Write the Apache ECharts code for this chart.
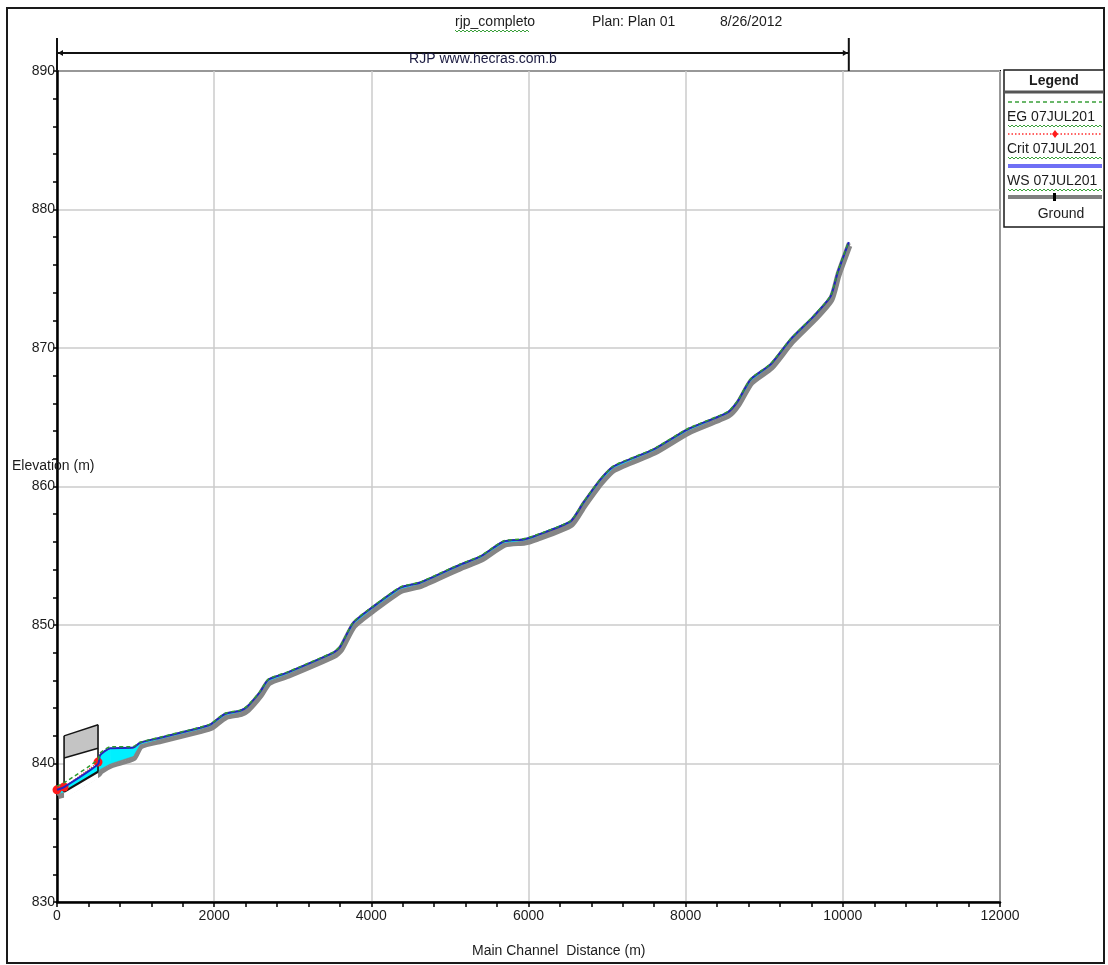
<!DOCTYPE html>
<html>
<head>
<meta charset="utf-8">
<title>rjp_completo profile</title>
<script src="https://cdn.jsdelivr.net/npm/echarts@6/dist/echarts.min.js"></script>
<style>
  html, body { margin: 0; padding: 0; background: #fff; }
  #main { width: 1108px; height: 965px; }
</style>
</head>
<body>
<div id="main"></div>
<script>
// Main channel stations (m) and profile elevations (m)
const distance = [0, 90, 522, 548, 675, 968, 1057, 1312, 1822, 1949, 2140, 2331, 2420, 2586, 2688, 2930, 3516, 3605, 3771, 4025, 4369, 4624, 5134, 5389, 5682, 5936, 6064, 6535, 6701, 6917, 7083, 7592, 8025, 8535, 8662, 8828, 9083, 9338, 9631, 9847, 9936, 10076];
const groundElev = [837.80, 837.95, 839.40, 839.60, 840.00, 840.55, 841.40, 841.78, 842.50, 842.72, 843.51, 843.73, 844.02, 845.10, 845.97, 846.48, 847.92, 848.36, 850.09, 851.25, 852.62, 852.99, 854.29, 854.87, 855.95, 856.10, 856.31, 857.40, 858.77, 860.43, 861.37, 862.60, 864.05, 865.28, 866.07, 867.66, 868.75, 870.56, 872.22, 873.67, 875.40, 877.57];
const wsElev = [838.10, 838.30, 839.95, 840.60, 841.10, 841.15, 841.50, 841.86, 842.58, 842.80, 843.59, 843.81, 844.10, 845.18, 846.05, 846.56, 848.00, 848.44, 850.17, 851.33, 852.70, 853.07, 854.37, 854.95, 856.03, 856.18, 856.39, 857.48, 858.85, 860.51, 861.45, 862.68, 864.13, 865.36, 866.15, 867.74, 868.83, 870.64, 872.30, 873.75, 875.48, 877.65];
const egElev = [838.35, 838.60, 840.27, 840.75, 841.20, 841.22, 841.54, 841.90, 842.62, 842.84, 843.63, 843.85, 844.14, 845.22, 846.09, 846.60, 848.04, 848.48, 850.21, 851.37, 852.74, 853.11, 854.41, 854.99, 856.07, 856.22, 856.43, 857.52, 858.89, 860.55, 861.49, 862.72, 864.17, 865.40, 866.19, 867.78, 868.87, 870.68, 872.34, 873.79, 875.52, 877.69];
const critElev = [838.10, 838.30, 840.10, 840.58, 841.08, 841.13, 841.48, 841.84, 842.56, 842.78, 843.57, 843.79, 844.08, 845.16, 846.03, 846.54, 847.98, 848.42, 850.15, 851.31, 852.68, 853.05, 854.35, 854.93, 856.01, 856.16, 856.37, 857.46, 858.83, 860.49, 861.43, 862.66, 864.11, 865.34, 866.13, 867.72, 868.81, 870.62, 872.28, 873.73, 875.46, 877.63];

// Bridge / culvert geometry (downstream face, upstream face)
const bridgeStations = [90, 522];
const bridgeHighChord = [842.0, 842.8];
const bridgeLowChord = [840.4, 841.1];
const bridgeInvert = [837.95, 839.4];

// Axis ranges
const xRange = { min: 0, max: 12000, step: 2000 };
const yRange = { min: 830, max: 890, step: 10 };

// Text
const titleRiver = 'rjp_completo';
const titlePlan = 'Plan: Plan 01';
const titleDate = '8/26/2012';
const reachName = 'RJP www.hecras.com.b';
const legendNames = ['EG 07JUL2012', 'Crit 07JUL2012', 'WS 07JUL2012', 'Ground'];

const FONT = '"Liberation Sans", Arial, sans-serif';
const TXT = '#1c1c1c';
const SMOOTH = 0.2;

const chart = echarts.init(document.getElementById('main'), null, { renderer: 'canvas' });

const pairs = arr => distance.map((d, i) => [d, arr[i]]);

// rows for the wetted area between ground and water surface
const wetRows = [];
for (let i = 0; i < distance.length - 1; i++) {
  wetRows.push([distance[i], wsElev[i], groundElev[i], distance[i + 1], wsElev[i + 1], groundElev[i + 1]]);
}

function squiggle(x0, x1, y) {
  const pts = [];
  let up = true;
  for (let x = x0; x <= x1; x += 2) { pts.push([x, up ? y : y + 2]); up = !up; }
  return { type: 'polyline', shape: { points: pts }, style: { stroke: '#3aa03a', lineWidth: 1, fill: null }, z: 120 };
}

function bridgeCorners(api) {
  return {
    hL: api.coord([bridgeStations[0], bridgeHighChord[0]]),
    hR: api.coord([bridgeStations[1], bridgeHighChord[1]]),
    lL: api.coord([bridgeStations[0], bridgeLowChord[0]]),
    lR: api.coord([bridgeStations[1], bridgeLowChord[1]]),
    gL: api.coord([bridgeStations[0], bridgeInvert[0]]),
    gR: api.coord([bridgeStations[1], bridgeInvert[1]])
  };
}

const option = {
  backgroundColor: '#fff',
  animation: false,
  grid: {
    left: 57, top: 71, right: 108, bottom: 63,
    show: true, borderColor: '#000', borderWidth: 2, backgroundColor: 'transparent'
  },
  xAxis: {
    type: 'value', min: xRange.min, max: xRange.max, interval: xRange.step,
    axisLine: { show: true, onZero: false, lineStyle: { color: '#000', width: 2.5 } },
    axisTick: { show: true, length: 5, lineStyle: { color: '#000', width: 1.5 } },
    minorTick: { show: true, splitNumber: 5, length: 5, lineStyle: { color: '#000', width: 1.5 } },
    axisLabel: { color: TXT, fontFamily: FONT, fontSize: 14, margin: 7, formatter: v => String(v) },
    splitLine: { show: true, lineStyle: { color: '#cbcbcb', width: 1.5 } }
  },
  yAxis: {
    type: 'value', min: yRange.min, max: yRange.max, interval: yRange.step,
    axisLine: { show: true, onZero: false, lineStyle: { color: '#000', width: 2.5 } },
    axisTick: { show: true, length: 4, lineStyle: { color: '#000', width: 1.5 } },
    minorTick: { show: true, splitNumber: 5, length: 4, lineStyle: { color: '#000', width: 1.5 } },
    axisLabel: { color: TXT, fontFamily: FONT, fontSize: 14, margin: 2, formatter: v => String(v) },
    splitLine: { show: true, lineStyle: { color: '#cbcbcb', width: 1.5 } }
  },
  series: [
    {
      name: 'Ground', type: 'line', z: 2, data: pairs(groundElev), smooth: SMOOTH,
      symbol: 'none', silent: true,
      lineStyle: { color: '#858585', width: 4, shadowColor: '#858585', shadowBlur: 0, shadowOffsetX: 1.5, shadowOffsetY: 3 }
    },
    {
      // bridge opening and deck fill
      name: 'BridgeDeck', type: 'custom', z: 3, silent: true, data: [[bridgeStations[0], bridgeHighChord[0]]],
      renderItem: function (params, api) {
        const c = bridgeCorners(api);
        return {
          type: 'group',
          children: [
            { type: 'polygon', shape: { points: [c.lL, c.lR, [c.gR[0], c.gR[1] + 7], [c.gL[0], c.gL[1] + 7]] }, style: { fill: '#fff' } },
            { type: 'polygon', shape: { points: [c.hL, c.hR, c.lR, c.lL] }, style: { fill: '#c4c4c4' } }
          ]
        };
      }
    },
    {
      name: 'Wet', type: 'custom', z: 4, silent: true, data: wetRows,
      renderItem: function (params, api) {
        const pts = [
          api.coord([api.value(0), api.value(1)]),
          api.coord([api.value(3), api.value(4)]),
          api.coord([api.value(3), api.value(5)]),
          api.coord([api.value(0), api.value(2)])
        ];
        return { type: 'polygon', shape: { points: pts }, style: { fill: '#00f0ff', stroke: '#00f0ff', lineWidth: 0.5 } };
      }
    },
    {
      // bridge outline: faces, chords and invert
      name: 'BridgeEdges', type: 'custom', z: 5, silent: true, data: [[bridgeStations[0], bridgeHighChord[0]]],
      renderItem: function (params, api) {
        const c = bridgeCorners(api);
        const ln = (a, b, w) => ({ type: 'line', shape: { x1: a[0], y1: a[1], x2: b[0], y2: b[1] }, style: { stroke: '#141414', lineWidth: w } });
        return {
          type: 'group',
          children: [
            ln(c.gL, c.hL, 1.6), ln(c.gR, c.hR, 1.6),
            ln(c.hL, c.hR, 1.4), ln(c.lL, c.lR, 1.4),
            ln(c.gL, c.gR, 2.2)
          ]
        };
      }
    },
    {
      name: 'Crit', type: 'line', z: 6, data: pairs(critElev), clip: false, smooth: SMOOTH,
      symbol: 'circle', showSymbol: true, showAllSymbol: true,
      symbolSize: function (val) { return val[0] <= bridgeStations[1] ? 9 : 0; },
      itemStyle: { color: '#ff1a1a', borderWidth: 0 },
      lineStyle: { color: '#ff2a2a', width: 1.2, type: 'dotted' }
    },
    {
      name: 'WS', type: 'line', z: 7, data: pairs(wsElev), smooth: SMOOTH,
      symbol: 'none', lineStyle: { color: '#2323c0', width: 2 }
    },
    {
      name: 'EG', type: 'line', z: 8, data: pairs(egElev), smooth: SMOOTH,
      symbol: 'none', lineStyle: { color: '#2f9a2f', width: 1.5, type: [4, 3] }
    }
  ]
};

chart.setOption(option);

// Reach bar above the plot spans the first to last station
const pStart = chart.convertToPixel({ gridIndex: 0 }, [distance[0], yRange.max]);
const pEnd = chart.convertToPixel({ gridIndex: 0 }, [distance[distance.length - 1], yRange.max]);
const barY = 53;

const lgX = 1004, lgY = 70, lgW = 100, lgH = 157;
const lgText = (y, s) => ({ type: 'text', x: lgX + 3, y: y, style: { text: s, font: '14px ' + FONT, fill: TXT, verticalAlign: 'middle', width: lgW - 5, overflow: 'truncate', ellipsis: '' }, z: 111 });

chart.setOption({
  graphic: [
    // outer frame
    { type: 'rect', shape: { x: 7, y: 8, width: 1097, height: 955 }, style: { fill: null, stroke: '#1a1a1a', lineWidth: 2 }, z: 100 },
    // heading
    { type: 'text', x: 455, y: 22, style: { text: titleRiver, font: '14px ' + FONT, fill: TXT, verticalAlign: 'middle' }, z: 110 },
    squiggle(455, 530, 30),
    { type: 'text', x: 592, y: 22, style: { text: titlePlan, font: '14px ' + FONT, fill: TXT, verticalAlign: 'middle' }, z: 110 },
    { type: 'text', x: 720, y: 22, style: { text: titleDate, font: '14px ' + FONT, fill: TXT, verticalAlign: 'middle' }, z: 110 },
    // reach bar
    { type: 'line', shape: { x1: pStart[0], y1: barY, x2: pEnd[0], y2: barY }, style: { stroke: '#111', lineWidth: 2 }, z: 105 },
    { type: 'line', shape: { x1: pStart[0], y1: 38, x2: pStart[0], y2: pStart[1] }, style: { stroke: '#111', lineWidth: 2 }, z: 105 },
    { type: 'line', shape: { x1: pEnd[0], y1: 38, x2: pEnd[0], y2: pEnd[1] }, style: { stroke: '#111', lineWidth: 2 }, z: 105 },
    { type: 'polygon', shape: { points: [[pStart[0] + 1, barY], [pStart[0] + 6, barY - 3], [pStart[0] + 6, barY + 3]] }, style: { fill: '#111' }, z: 105 },
    { type: 'polygon', shape: { points: [[pEnd[0] - 1, barY], [pEnd[0] - 6, barY - 3], [pEnd[0] - 6, barY + 3]] }, style: { fill: '#111' }, z: 105 },
    { type: 'text', x: 483, y: 59, style: { text: reachName, font: '14px ' + FONT, fill: '#1a1a40', align: 'center', verticalAlign: 'middle' }, z: 106 },
    // axis titles
    { type: 'text', x: 12, y: 466, style: { text: 'Elevation (m)', font: '14px ' + FONT, fill: TXT, verticalAlign: 'middle' }, z: 110 },
    { type: 'text', x: 472, y: 951, style: { text: 'Main Channel  Distance (m)', font: '14px ' + FONT, fill: TXT, verticalAlign: 'middle' }, z: 110 },
    // legend box
    { type: 'rect', shape: { x: lgX, y: lgY, width: lgW, height: lgH }, style: { fill: '#fff', stroke: '#1a1a1a', lineWidth: 1.5 }, z: 110 },
    { type: 'text', x: lgX + lgW / 2, y: lgY + 11, style: { text: 'Legend', font: 'bold 14px ' + FONT, fill: TXT, align: 'center', verticalAlign: 'middle' }, z: 111 },
    { type: 'line', shape: { x1: lgX, y1: lgY + 22, x2: lgX + lgW, y2: lgY + 22 }, style: { stroke: '#555', lineWidth: 3 }, z: 111 },
    // EG
    { type: 'line', shape: { x1: lgX + 4, y1: lgY + 32, x2: lgX + lgW - 2, y2: lgY + 32 }, style: { stroke: '#3aa03a', lineWidth: 1.6, lineDash: [4, 3] }, z: 111 },
    lgText(lgY + 47, legendNames[0]),
    squiggle(lgX + 4, lgX + lgW - 2, lgY + 55),
    // Crit
    { type: 'line', shape: { x1: lgX + 4, y1: lgY + 64, x2: lgX + lgW - 2, y2: lgY + 64 }, style: { stroke: '#ff3030', lineWidth: 1.5, lineDash: [1.5, 2] }, z: 111 },
    { type: 'polygon', shape: { points: [[lgX + 51, lgY + 60], [lgX + 54, lgY + 64], [lgX + 51, lgY + 68], [lgX + 48, lgY + 64]] }, style: { fill: '#ff1a1a' }, z: 112 },
    lgText(lgY + 79, legendNames[1]),
    squiggle(lgX + 4, lgX + lgW - 2, lgY + 87),
    // WS
    { type: 'line', shape: { x1: lgX + 4, y1: lgY + 96, x2: lgX + lgW - 2, y2: lgY + 96 }, style: { stroke: '#6f6ff5', lineWidth: 4 }, z: 111 },
    lgText(lgY + 111, legendNames[2]),
    squiggle(lgX + 4, lgX + lgW - 2, lgY + 119),
    // Ground
    { type: 'line', shape: { x1: lgX + 4, y1: lgY + 127, x2: lgX + lgW - 2, y2: lgY + 127 }, style: { stroke: '#808080', lineWidth: 4 }, z: 111 },
    { type: 'rect', shape: { x: lgX + 49, y: lgY + 123, width: 3, height: 8 }, style: { fill: '#000' }, z: 112 },
    { type: 'text', x: lgX + 57, y: lgY + 144, style: { text: legendNames[3], font: '14px ' + FONT, fill: TXT, align: 'center', verticalAlign: 'middle' }, z: 111 }
  ]
});
</script>
</body>
</html>
